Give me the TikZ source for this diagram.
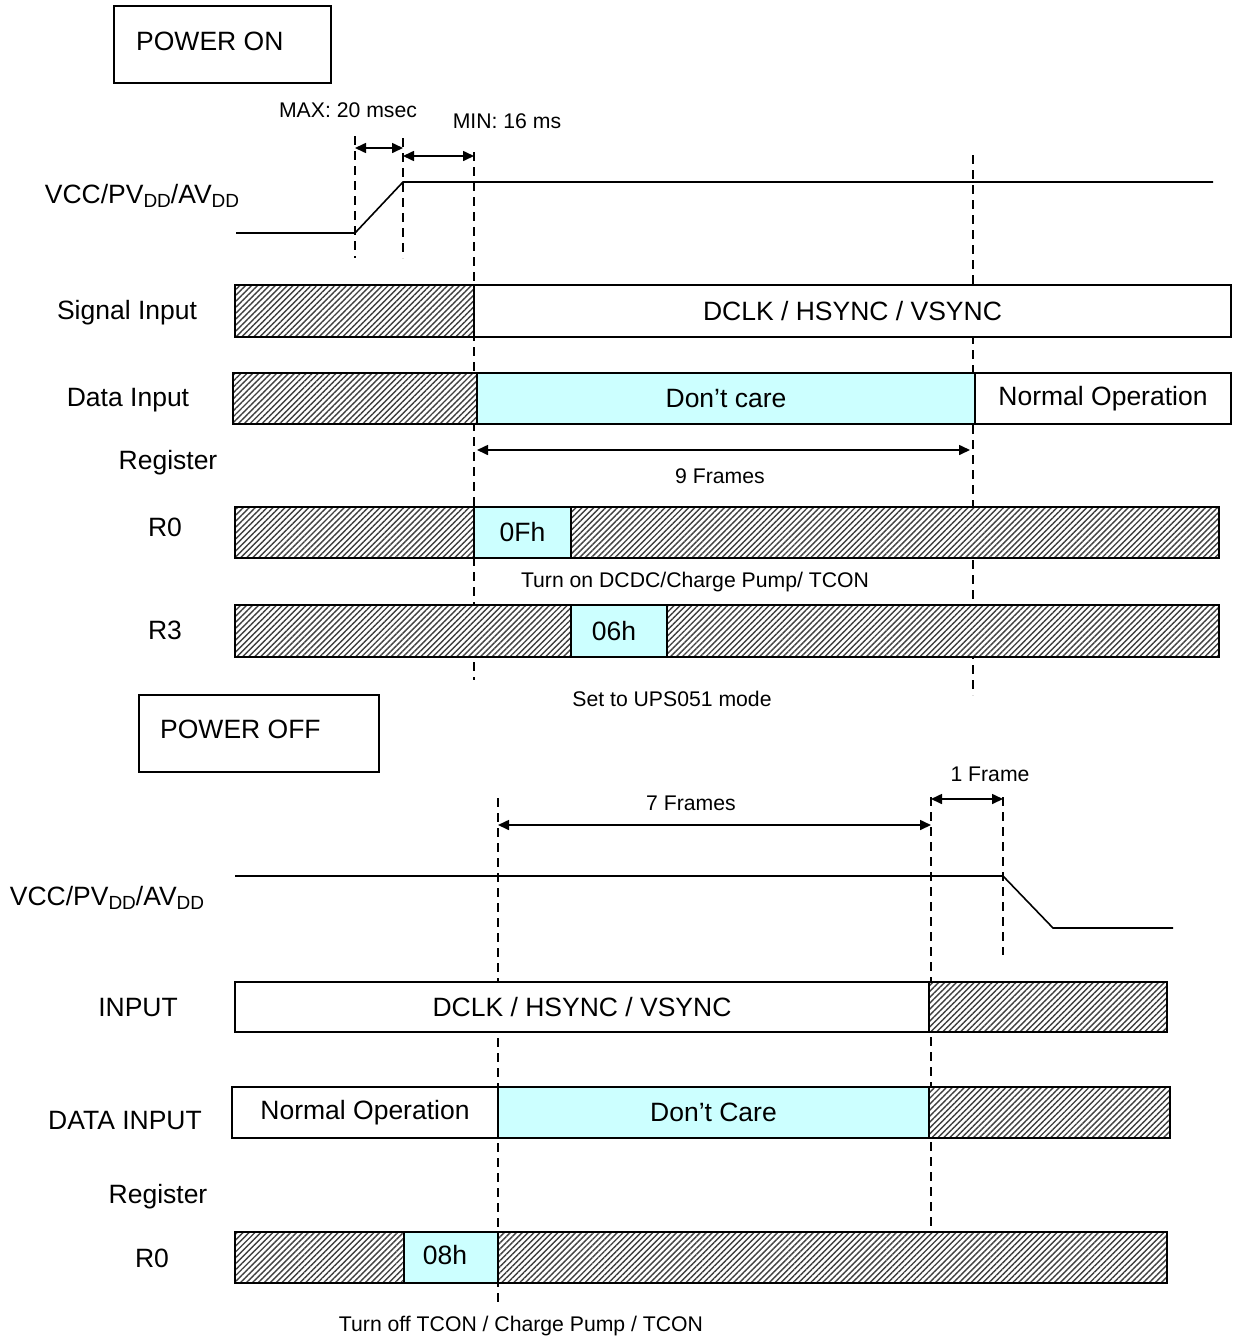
\documentclass[tikz,border=0pt]{standalone}
\usepackage{fontspec}
\setmainfont{Liberation Sans}
\usetikzlibrary{patterns.meta,arrows.meta}
\definecolor{lcyan}{HTML}{CCFFFF}
\newcommand{\ddsub}{\raisebox{-0.28ex}{\fontsize{19}{20}\selectfont DD}}
\begin{document}
\begin{tikzpicture}[x=1pt,y=-1pt,
  seg/.style={draw,line width=1.5pt,inner sep=0pt,outer sep=0pt,anchor=north west,font=\fontsize{26.5}{30}\selectfont},
  hatch/.style={seg,preaction={fill=white},pattern={Lines[angle=45,distance=4.2pt,line width=1.4pt]},pattern color=black!75},
  cy/.style={seg,fill=lcyan},
  wh/.style={seg,fill=white},
  lbl/.style={font=\fontsize{26.5}{30}\selectfont,inner sep=0pt},
  sm/.style={font=\fontsize{21.2}{24}\selectfont,inner sep=0pt},
  dsh/.style={line width=1.6pt,dash pattern=on 9pt off 6pt},
  dim/.style={line width=1.6pt,{Triangle[length=11pt,width=10pt]}-{Triangle[length=11pt,width=10pt]}},
  wave/.style={line width=1.6pt},
  titlebox/.style={draw,line width=1.5pt,inner sep=0pt,outer sep=0pt,anchor=north west}
]
\useasboundingbox (0,0) rectangle (1236,1339);

% ===================== POWER ON =====================
\node[titlebox,minimum width=217pt,minimum height=77pt] (pon) at (114,6) {};
\node[lbl,anchor=west] (ponT) at (136,41) {POWER ON};

% dashed guides
\coordinate (d1t) at (355,136); \coordinate (d1b) at (355,258);
\coordinate (d2t) at (403,138); \coordinate (d2b) at (403,258);
\coordinate (d3t) at (474,152); \coordinate (d3b) at (474,680);
\coordinate (d4t) at (973,155); \coordinate (d4b) at (973,695);
\draw[dsh] (d1t) -- (d1b);
\draw[dsh] (d2t) -- (d2b);
\draw[dsh] (d3t) -- (d3b);
\draw[dsh] (d4t) -- (d4b);

% timing dimensions
\coordinate (maxL) at (355,148); \coordinate (maxR) at (403,148);
\coordinate (minL) at (403,156); \coordinate (minR) at (474,156);
\draw[dim] (maxL) -- (maxR);
\draw[dim] (minL) -- (minR);
\node[sm] (maxT) at (348,110) {MAX: 20 msec};
\node[sm] (minT) at (507,121) {MIN: 16 ms};

% VCC waveform
\node[lbl] (vcc1) at (142,196) {VCC/PV\ddsub/AV\ddsub};
\coordinate (w1a) at (236,233); \coordinate (w1b) at (355,233);
\coordinate (w1c) at (403,182); \coordinate (w1d) at (1213,182);
\draw[wave] (w1a) -- (w1b) -- (w1c) -- (w1d);

% Signal Input
\node[lbl] (siL) at (127,313) {Signal Input};
\node[hatch,minimum width=240pt,minimum height=52pt] (si1) at (235,285) {};
\node[wh,minimum width=757pt,minimum height=52pt] (si2) at (474,285) {DCLK / HSYNC / VSYNC};

% Data Input
\node[lbl] (diL) at (128,400) {Data Input};
\node[hatch,minimum width=244pt,minimum height=51pt] (di1) at (233,373) {};
\node[cy,minimum width=498pt,minimum height=51pt] (di2) at (477,373) {Don’t care};
\node[wh,minimum width=256pt,minimum height=51pt] (di3) at (975,373) {\raisebox{3pt}{Normal Operation}};

% Register
\node[lbl] (reg1) at (168,463) {Register};
\coordinate (f9L) at (477,450); \coordinate (f9R) at (970,450);
\draw[dim] (f9L) -- (f9R);
\node[sm] (f9T) at (720,476) {9 Frames};

% R0
\node[lbl] (r0L) at (165,527) {R0};
\node[hatch,minimum width=239pt,minimum height=51pt] (r0a) at (235,507) {};
\node[cy,minimum width=97pt,minimum height=51pt] (r0b) at (474,507) {0Fh};
\node[hatch,minimum width=648pt,minimum height=51pt] (r0c) at (571,507) {};
\node[sm] (r0T) at (695,582) {Turn on DCDC/Charge Pump/ TCON};

% R3
\node[lbl] (r3L) at (165,630) {R3};
\node[hatch,minimum width=336pt,minimum height=52pt] (r3a) at (235,605) {};
\node[cy,minimum width=96pt,minimum height=52pt] (r3b) at (571,605) {\hspace*{-10pt}06h};
\node[hatch,minimum width=552pt,minimum height=52pt] (r3c) at (667,605) {};
\node[sm] (r3T) at (672,699) {Set to UPS051 mode};

% ===================== POWER OFF =====================
\node[titlebox,minimum width=240pt,minimum height=77pt] (poff) at (139,695) {};
\node[lbl,anchor=west] (poffT) at (160,729) {POWER OFF};

\coordinate (d5t) at (498,798); \coordinate (d5b) at (498,1303);
\coordinate (d6t) at (931,797); \coordinate (d6b) at (931,1230);
\coordinate (d7t) at (1003,797); \coordinate (d7b) at (1003,955);
\draw[dsh] (d5t) -- (d5b);
\draw[dsh] (d6t) -- (d6b);
\draw[dsh] (d7t) -- (d7b);

\coordinate (f1L) at (931,799); \coordinate (f1R) at (1003,799);
\draw[dim] (f1L) -- (f1R);
\node[sm] (f1T) at (990,774) {1 Frame};
\coordinate (f7L) at (498,825); \coordinate (f7R) at (931,825);
\draw[dim] (f7L) -- (f7R);
\node[sm] (f7T) at (691,803) {7 Frames};

% VCC waveform
\node[lbl] (vcc2) at (107,898) {VCC/PV\ddsub/AV\ddsub};
\coordinate (w2a) at (235,876); \coordinate (w2b) at (1003,876);
\coordinate (w2c) at (1053,928); \coordinate (w2d) at (1173,928);
\draw[wave] (w2a) -- (w2b) -- (w2c) -- (w2d);

% INPUT
\node[lbl] (inL) at (138,1008) {INPUT};
\node[wh,minimum width=694pt,minimum height=50pt] (in1) at (235,982) {DCLK / HSYNC / VSYNC};
\node[hatch,minimum width=238pt,minimum height=50pt] (in2) at (929,982) {};

% DATA INPUT
\node[lbl] (dinL) at (125,1120) {DATA INPUT};
\node[wh,minimum width=266pt,minimum height=51pt] (din1) at (232,1087) {\raisebox{6pt}{Normal Operation}};
\node[cy,minimum width=431pt,minimum height=51pt] (din2) at (498,1087) {Don’t Care};
\node[hatch,minimum width=241pt,minimum height=51pt] (din3) at (929,1087) {};

% Register
\node[lbl] (reg2) at (158,1197) {Register};

% R0
\node[lbl] (r0offL) at (152,1258) {R0};
\node[hatch,minimum width=169pt,minimum height=51pt] (r0o1) at (235,1232) {};
\node[cy,minimum width=94pt,minimum height=51pt] (r0o2) at (404,1232) {\raisebox{6pt}{\hspace*{-12pt}08h}};
\node[hatch,minimum width=669pt,minimum height=51pt] (r0o3) at (498,1232) {};
\node[sm] (r0oT) at (521,1326) {Turn off TCON / Charge Pump / TCON};
\end{tikzpicture}
\end{document}
